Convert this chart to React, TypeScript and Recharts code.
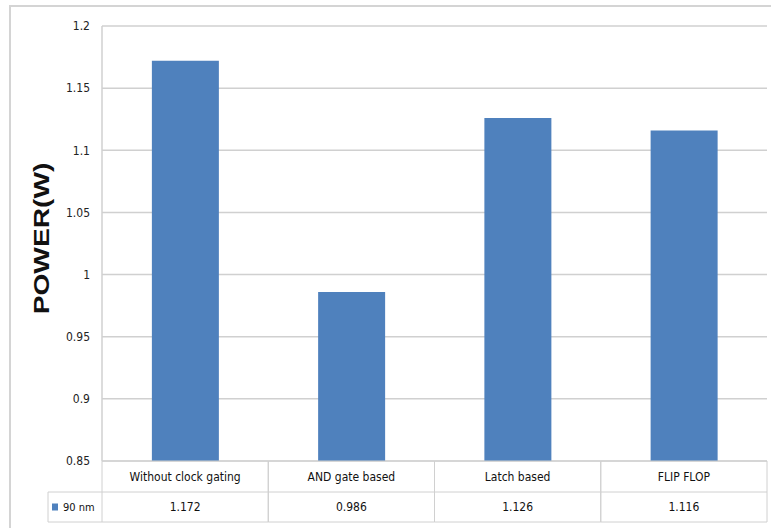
import React from 'react';
import { BarChart, Bar, XAxis, YAxis, CartesianGrid } from 'recharts';

const categories = ['Without clock gating', 'AND gate based', 'Latch based', 'FLIP FLOP'];
const power90nm = [1.172, 0.986, 1.126, 1.116];
const yTicks = [0.85, 0.9, 0.95, 1, 1.05, 1.1, 1.15, 1.2];
const seriesName = '90 nm';
const yTitle = 'POWER(W)';

const data = categories.map((c, i) => ({ name: c, value: power90nm[i] }));

const FONT = "'Liberation Sans Narrow', 'DejaVu Sans Condensed', 'Liberation Sans', sans-serif";
const LINE = '#d0d0d0';
const BAR = '#4f81bd';
const ROW = 31;
const ROW2 = 30;

const TableTick = (props: any) => {
  const { x, y, payload, index } = props;
  const half = payload && typeof payload.offset === 'number' && payload.offset > 0 ? payload.offset : 83;
  const left = x - half;
  const right = x + half;
  const y1 = y + ROW;
  const y2 = y + ROW + ROW2;
  return (
    <g>
      <line x1={left} y1={y} x2={right} y2={y} stroke={LINE} />
      <line x1={left} y1={y1} x2={right} y2={y1} stroke={LINE} />
      <line x1={left} y1={y2} x2={right} y2={y2} stroke={LINE} />
      <line x1={left} y1={y} x2={left} y2={y2} stroke={LINE} />
      <line x1={right} y1={y} x2={right} y2={y2} stroke={LINE} />
      <text x={x} y={y + ROW / 2} textAnchor="middle" dominantBaseline="central" fontSize={12} fontFamily={FONT} fill="#111">
        {payload.value}
      </text>
      <text x={x} y={y1 + ROW2 / 2} textAnchor="middle" dominantBaseline="central" fontSize={12} fontFamily={FONT} fill="#111">
        {String(power90nm[index])}
      </text>
      {index === 0 && (
        <g>
          <line x1={left - 54} y1={y1} x2={left} y2={y1} stroke={LINE} />
          <line x1={left - 54} y1={y2} x2={left} y2={y2} stroke={LINE} />
          <line x1={left - 54} y1={y1} x2={left - 54} y2={y2} stroke={LINE} />
          <rect x={left - 50} y={y1 + ROW2 / 2 - 3.5} width={6} height={7} fill={BAR} />
          <text x={left - 39} y={y1 + ROW2 / 2} dominantBaseline="central" fontSize={11} fontFamily={FONT} fill="#111">
            {seriesName}
          </text>
        </g>
      )}
    </g>
  );
};

const TitleLabel = (props: any) => {
  const vb = props.viewBox || { x: 0, y: 26, width: 102, height: 435 };
  const cx = vb.x + 41;
  const cy = vb.y + vb.height / 2 - 5;
  return (
    <text
      x={0}
      y={0}
      transform={`translate(${cx} ${cy}) rotate(-90) scale(1.28 1)`}
      textAnchor="middle"
      dominantBaseline="central"
      fontSize={22}
      fontWeight="bold"
      fontFamily="'Liberation Sans', Arial, sans-serif"
      fill="#111"
    >
      {yTitle}
    </text>
  );
};

export default function App() {
  return (
    <div style={{ position: 'absolute', left: 0, top: 0, width: 771, height: 528, overflow: 'hidden', background: '#fff' }}>
      <div
        style={{
          position: 'absolute',
          left: 9,
          top: 5,
          width: 800,
          height: 600,
          border: '2px solid #d4d4d4',
          boxSizing: 'border-box',
        }}
      />
      <div style={{ position: 'absolute', left: 0, top: 0 }}>
        <BarChart width={771} height={528} data={data} margin={{ top: 26, right: 4, left: 0, bottom: 0 }} barCategoryGap="30%">
          <CartesianGrid horizontal vertical={false} stroke={LINE} strokeWidth={1.5} />
          <XAxis
            dataKey="name"
            height={67}
            axisLine={false}
            tickLine={false}
            tickSize={0}
            tickMargin={0}
            interval={0}
            tick={<TableTick />}
          />
          <YAxis
            width={102}
            domain={[0.85, 1.2]}
            ticks={yTicks}
            allowDataOverflow
            axisLine={{ stroke: LINE, strokeWidth: 1.5 }}
            tickLine={false}
            tickSize={0}
            tickMargin={12}
            tick={{ fontSize: 12, fontFamily: FONT, fill: '#222' }}
            label={<TitleLabel />}
          />
          <Bar dataKey="value" fill={BAR} isAnimationActive={false} />
        </BarChart>
      </div>
    </div>
  );
}
